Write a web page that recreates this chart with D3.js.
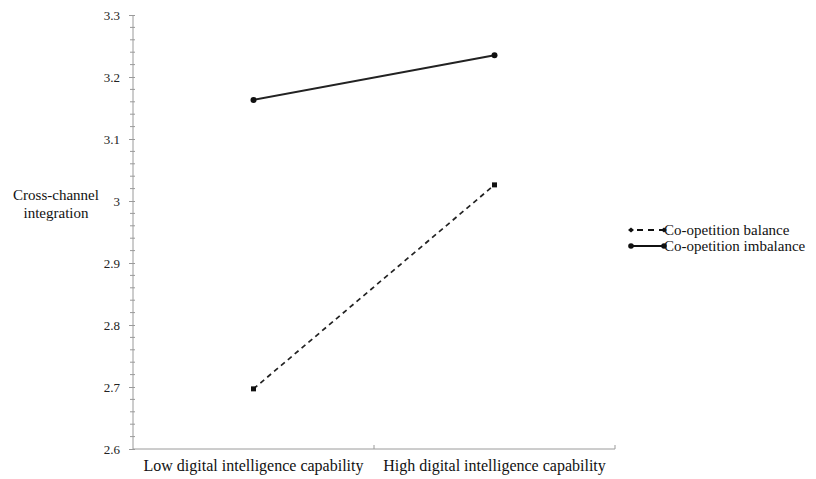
<!DOCTYPE html>
<html>
<head>
<meta charset="utf-8">
<script src="https://cdn.jsdelivr.net/npm/d3@7"></script>
<style>
  body { margin: 0; background: #fff; }
  svg { display: block; }
  svg text { font-family: "Liberation Serif", "Times New Roman", serif !important; }
</style>
</head>
<body>
<svg id="chart" width="816" height="479"></svg>
<script>
// Interaction plot: cross-channel integration by digital intelligence capability
const categories = ["Low digital intelligence capability", "High digital intelligence capability"];
const seriesNames = ["Co-opetition balance", "Co-opetition imbalance"];
const balanceValues = [2.697, 3.026];
const imbalanceValues = [3.163, 3.235];
const yTicks = [2.6, 2.7, 2.8, 2.9, 3.0, 3.1, 3.2, 3.3];
const yTickLabels = ["2.6", "2.7", "2.8", "2.9", "3", "3.1", "3.2", "3.3"];

const svg = d3.select("#chart");
const plotLeft = 133, plotRight = 615, plotTop = 15, plotBottom = 449;

const x = d3.scaleBand().domain(categories).range([plotLeft, plotRight]);
const y = d3.scaleLinear().domain([2.6, 3.3]).range([plotBottom, plotTop]);

const axisColor = "#9a9a9a";

// Y axis: major and minor ticks
const yAxis = d3.axisLeft(y)
  .tickValues(yTicks)
  .tickFormat((d, i) => yTickLabels[i])
  .tickSize(4)
  .tickPadding(9);
const gy = svg.append("g").attr("transform", `translate(${plotLeft},0)`).call(yAxis);
gy.attr("font-family", null);
gy.select(".domain").attr("stroke", axisColor).attr("d", `M0,${plotTop}V${plotBottom}`);
gy.selectAll(".tick line").attr("stroke", axisColor).attr("x1", 2);
gy.selectAll(".tick text").attr("font-size", 13).attr("fill", "#222");

const minor = d3.range(2.62, 3.3, 0.02).filter(v => Math.abs(Math.round(v * 10) - v * 10) > 1e-6);
svg.append("g").selectAll("line").data(minor).join("line")
  .attr("x1", plotLeft - 3).attr("x2", plotLeft + 2)
  .attr("y1", d => y(d)).attr("y2", d => y(d))
  .attr("stroke", axisColor).attr("stroke-width", 1);

// X axis with boundary ticks between categories
const gx = svg.append("g").attr("transform", `translate(0,${plotBottom})`);
gx.append("line").attr("x1", plotLeft).attr("x2", plotRight).attr("y1", 0).attr("y2", 0).attr("stroke", axisColor);
const boundaries = [plotLeft + x.bandwidth(), plotRight];
gx.selectAll("line.b").data(boundaries).join("line").attr("class", "b")
  .attr("x1", d => d).attr("x2", d => d).attr("y1", 0).attr("y2", -4)
  .attr("stroke", axisColor);
gx.selectAll("text").data(categories).join("text")
  .attr("x", d => x(d) + x.bandwidth() / 2)
  .attr("y", 22)
  .attr("text-anchor", "middle")
  .attr("font-size", 16)
  .attr("fill", "#111")
  .text(d => d);

// Y axis title
const yt = svg.append("text").attr("font-size", 15).attr("fill", "#111").attr("text-anchor", "middle");
yt.append("tspan").attr("x", 56).attr("y", 200).text("Cross-channel");
yt.append("tspan").attr("x", 56).attr("y", 218).text("integration");

// Series lines
const line = d3.line().x((d, i) => x(categories[i]) + x.bandwidth() / 2).y(d => y(d));
const series = [
  { name: seriesNames[0], values: balanceValues, dash: "5,4", width: 1.7, marker: "square" },
  { name: seriesNames[1], values: imbalanceValues, dash: null, width: 2, marker: "circle" }
];

series.forEach(s => {
  svg.append("path").datum(s.values)
    .attr("d", line)
    .attr("fill", "none")
    .attr("stroke", "#222")
    .attr("stroke-width", s.width)
    .attr("stroke-dasharray", s.dash);
  const pts = svg.append("g").selectAll("g").data(s.values).join("g")
    .attr("transform", (d, i) => `translate(${x(categories[i]) + x.bandwidth() / 2},${y(d)})`);
  if (s.marker === "square") {
    pts.append("rect").attr("x", -2.5).attr("y", -2.5).attr("width", 5).attr("height", 5).attr("fill", "#111");
  } else {
    pts.append("circle").attr("r", 3).attr("fill", "#111");
  }
});

// Legend
const legend = svg.append("g");
const legY = [230, 246];
series.forEach((s, i) => {
  const g = legend.append("g").attr("transform", `translate(631,${legY[i]})`);
  g.append("line").attr("x1", 0).attr("x2", 33).attr("y1", 0).attr("y2", 0)
    .attr("stroke", "#111").attr("stroke-width", 2)
    .attr("stroke-dasharray", s.dash ? "6,5" : null)
    .attr("stroke-dashoffset", s.dash ? -6 : 0);
  [0, 33].forEach(px => {
    if (s.marker === "square") {
      g.append("path").attr("d", `M${px - 3},0L${px},-2.5L${px + 3},0L${px},2.5Z`).attr("fill", "#111");
    } else {
      g.append("circle").attr("cx", px).attr("cy", 0).attr("r", 2.8).attr("fill", "#111");
    }
  });
  g.append("text").attr("x", 33).attr("y", 5).attr("font-size", 15).attr("fill", "#111").text(s.name);
});
</script>
</body>
</html>
